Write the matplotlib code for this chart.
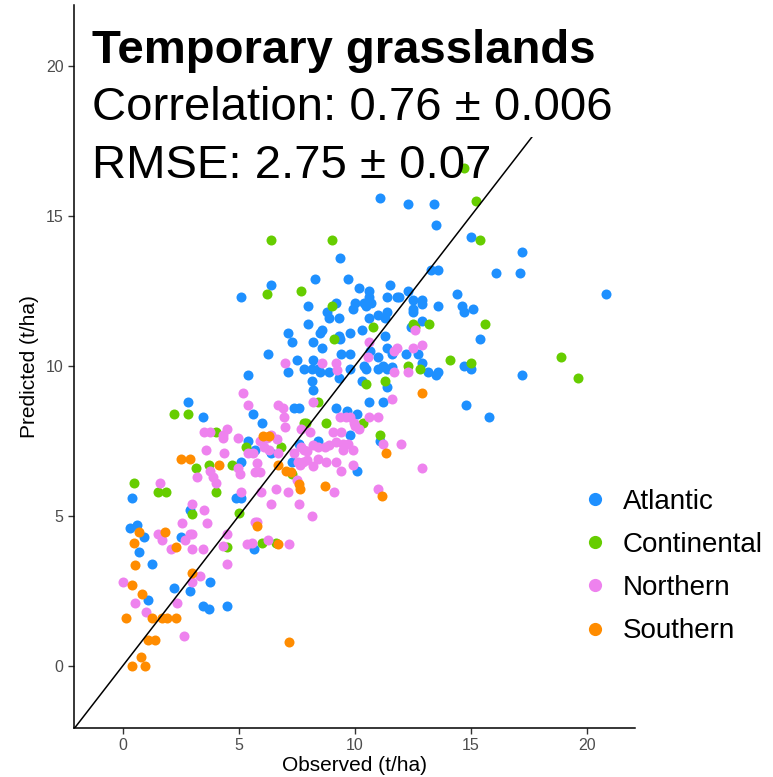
import matplotlib.pyplot as plt
from matplotlib.lines import Line2D
from matplotlib.patches import Rectangle

plt.rcParams['font.family'] = ['Liberation Sans', 'DejaVu Sans']

# observed / predicted (t/ha), per region
atlantic = [
    (11.1, 15.6), (12.3, 15.4), (13.4, 15.4), (13.5, 14.7), (15.0, 14.3), (9.35, 13.6),
    (13.3, 13.2), (13.6, 13.2), (17.2, 13.8), (16.1, 13.1), (17.1, 13.1), (20.8, 12.4),
    (8.3, 12.9), (9.7, 12.9), (10.2, 12.6), (6.4, 12.7), (5.1, 12.3), (10.6, 12.5),
    (10.6, 12.3), (11.5, 12.7), (11.4, 12.3), (11.8, 12.3), (11.9, 12.3), (12.3, 12.5),
    (12.5, 12.2), (12.5, 11.9), (12.5, 11.8), (12.9, 12.2), (12.9, 12.05), (13.6, 12.0),
    (14.4, 12.4), (14.6, 12.0), (14.7, 11.8), (15.1, 11.9),
    (8.0, 12.0), (9.2, 12.1), (10.0, 12.1), (10.4, 12.1), (9.9, 11.9), (10.5, 12.0), (10.7, 12.1),
    (8.8, 11.8), (8.9, 11.6), (9.3, 11.6), (10.6, 11.6), (11.0, 11.7), (11.4, 11.8), (11.3, 11.6),
    (8.0, 11.4), (8.6, 11.2), (8.5, 11.1), (7.1, 11.1), (9.3, 11.0), (9.8, 11.1), (10.3, 11.2),
    (9.35, 10.9), (8.2, 10.8), (11.3, 11.0), (7.3, 10.8), (8.6, 10.6), (10.65, 10.5),
    (12.9, 11.5), (12.4, 11.3), (15.4, 10.9),
    (9.4, 10.4), (9.8, 10.4), (6.25, 10.4), (11.0, 10.3), (7.5, 10.2), (8.2, 10.2),
    (11.4, 10.6), (11.6, 10.4), (12.2, 10.4), (12.7, 10.4),
    (7.1, 9.8), (7.8, 9.9), (8.15, 9.9), (8.4, 9.9), (8.5, 9.8), (8.9, 9.8), (9.8, 9.9),
    (10.4, 10.0), (10.5, 9.9), (11.0, 9.9), (11.2, 10.0), (11.4, 9.9), (11.6, 9.95),
    (12.9, 10.1), (13.15, 9.8), (13.5, 9.7), (13.6, 9.8), (14.7, 10.0), (15.0, 9.9),
    (17.2, 9.7), (9.3, 9.6),
    (5.4, 9.7), (8.15, 9.5), (10.3, 9.5), (11.4, 9.3), (8.2, 9.2), (2.8, 8.8), (10.6, 8.8),
    (11.2, 8.8), (14.8, 8.7), (15.8, 8.3),
    (5.6, 8.4), (6.0, 8.1), (7.4, 8.6), (7.6, 8.6), (9.2, 8.6), (9.65, 8.5), (10.1, 8.4), (3.45, 8.3),
    (7.6, 7.4), (8.4, 7.5), (9.8, 7.7), (11.1, 7.5), (5.4, 7.5), (5.7, 7.2), (6.4, 7.1),
    (10.1, 6.5), (7.3, 6.8), (5.1, 6.8),
    (0.4, 5.6), (4.9, 5.6), (5.1, 5.6), (2.9, 5.2), (0.3, 4.6), (0.6, 4.7), (0.9, 4.3),
    (0.7, 3.8), (1.25, 3.4), (2.5, 4.3), (5.65, 3.9),
    (2.2, 2.6), (2.9, 2.5), (3.75, 2.8), (1.1, 2.2), (3.45, 2.0), (3.7, 1.9), (4.5, 2.0),
]

continental = [
    (14.7, 16.6), (15.2, 15.5), (15.4, 14.2), (6.4, 14.2), (9.0, 14.2), (6.2, 12.4), (7.7, 12.5),
    (9.0, 12.0), (10.8, 11.3), (9.1, 10.9), (15.6, 11.4), (12.5, 11.4), (12.6, 11.3), (13.2, 11.4),
    (12.3, 10.0), (12.8, 9.9), (14.1, 10.2), (15.0, 10.1), (18.9, 10.3), (19.6, 9.6), (11.3, 9.5),
    (10.5, 9.4), (8.4, 8.8), (7.8, 8.1), (7.9, 8.1), (8.75, 8.1), (10.35, 8.1), (11.1, 7.7),
    (2.2, 8.4), (2.8, 8.4), (4.0, 7.8), (5.3, 7.3), (6.8, 7.3), (7.3, 6.4), (0.5, 6.1), (1.5, 5.8),
    (1.85, 5.8), (3.15, 6.6), (3.7, 6.7), (4.7, 6.7), (4.0, 5.8), (3.0, 5.05), (5.0, 5.1),
    (4.5, 3.95), (6.0, 4.1), (6.6, 4.1),
]

northern = [
    (10.6, 10.8), (11.7, 10.5), (10.55, 10.3), (7.0, 10.1), (8.6, 10.1), (9.2, 10.1), (9.25, 9.85),
    (5.2, 9.1), (12.6, 11.2), (12.5, 10.6), (12.9, 10.7), (11.8, 10.6), (12.3, 9.8), (11.7, 9.8),
    (11.6, 8.9), (5.4, 8.7), (6.7, 8.7), (6.9, 8.6), (6.95, 8.3), (8.2, 8.8), (9.35, 8.3),
    (9.6, 8.3), (9.8, 8.3), (9.95, 8.1), (7.0, 7.95), (10.6, 8.3), (11.0, 8.3), (10.2, 7.9),
    (10.0, 8.0), (3.5, 7.8), (3.75, 7.8), (4.3, 7.6), (4.5, 7.9), (4.3, 7.7), (3.6, 7.2),
    (4.35, 7.1), (4.95, 7.6), (5.4, 7.1), (5.6, 7.1), (5.9, 7.5), (6.2, 7.6), (6.4, 7.7),
    (6.1, 7.3), (6.3, 7.2), (6.65, 7.55), (6.7, 7.1), (4.95, 6.6), (5.05, 6.4), (5.7, 6.45),
    (5.9, 6.45), (5.8, 6.75), (7.7, 7.9), (8.05, 7.8), (9.05, 7.8), (9.4, 7.8),
    (7.4, 7.1), (7.7, 7.3), (7.8, 7.2), (7.95, 7.15), (8.2, 7.35), (8.4, 7.3), (8.7, 7.3),
    (8.9, 7.35), (9.2, 7.45), (9.5, 7.4), (9.7, 7.4), (9.9, 7.2), (9.5, 7.2),
    (7.55, 6.8), (7.65, 6.7), (7.75, 6.8), (7.95, 6.85), (8.2, 6.65), (8.4, 6.9), (8.75, 6.8),
    (9.2, 6.8), (9.4, 6.5), (9.9, 6.7), (11.2, 7.4), (12.0, 7.4), (12.9, 6.6), (11.0, 5.9),
    (7.5, 6.2), (6.6, 5.9), (7.1, 5.8), (9.1, 5.8), (6.4, 5.4), (7.6, 5.4), (8.15, 5.0),
    (5.95, 5.8), (5.1, 5.8), (3.2, 6.3), (3.75, 6.5), (3.9, 6.3), (4.0, 6.1), (1.6, 6.1),
    (3.0, 5.4), (3.5, 5.2), (3.65, 4.75), (2.55, 4.75), (1.5, 4.4), (1.7, 4.2), (2.7, 4.2),
    (2.9, 4.4), (3.0, 4.4), (2.1, 3.9), (3.0, 3.9), (3.45, 3.9), (4.3, 4.0), (4.5, 4.4),
    (4.5, 3.4), (3.35, 3.0), (0.0, 2.8), (3.0, 2.8), (0.55, 2.1), (2.35, 2.1), (1.0, 1.8),
    (2.65, 1.0), (5.35, 4.05), (5.55, 4.1), (5.7, 4.8), (5.8, 4.8), (6.25, 4.2), (7.15, 4.05),
]

southern = [
    (12.9, 9.1), (11.35, 7.1), (11.15, 5.65), (8.7, 6.0), (7.6, 6.05), (7.65, 5.9), (7.05, 6.5),
    (7.25, 6.45), (6.7, 6.7), (6.05, 7.65), (6.3, 7.65), (5.8, 4.65), (6.7, 4.05), (7.15, 0.8),
    (2.5, 6.9), (2.9, 6.9), (4.15, 6.7), (0.7, 4.45), (0.5, 4.1), (0.55, 3.35), (1.8, 4.45),
    (2.3, 3.95), (3.0, 3.1), (0.4, 2.7), (0.85, 2.4), (0.15, 1.6), (1.25, 1.6), (1.7, 1.6),
    (1.9, 1.6), (2.3, 1.6), (1.1, 0.85), (1.4, 0.85), (0.8, 0.3), (0.4, 0.0), (0.95, 0.0),
]

regions = ['Atlantic', 'Continental', 'Northern', 'Southern']
punkte = [atlantic, continental, northern, southern]
boje = ['#1E90FF', '#66CD00', '#EE82EE', '#FF8C00']
ticks = [0, 5, 10, 15, 20]

fig = plt.figure(figsize=(7.73, 7.77), dpi=100)
ax = fig.add_axes([0.0957, 0.0631, 0.7258, 0.9305])

for ime, pts, c in zip(regions, punkte, boje):
    xs = [p[0] for p in pts]
    ys = [p[1] for p in pts]
    ax.scatter(xs, ys, s=52, color=c, linewidths=0, zorder=2, label=ime)

# 1:1 linija
ax.axline((0, 0), slope=1, color='black', lw=1.1, zorder=3)

ax.set_xlim(-2.1, 22.07)
ax.set_ylim(-2.07, 22.03)
ax.set_xticks(ticks)
ax.set_yticks(ticks)
for s in ['top', 'right']:
    ax.spines[s].set_visible(False)
for s in ['left', 'bottom']:
    ax.spines[s].set_linewidth(1.1)
    ax.spines[s].set_color('black')
ax.tick_params(labelsize=11.5, labelcolor='#4D4D4D', color='#333333', length=4, width=1)
ax.set_xlabel('Observed (t/ha)', fontsize=15, labelpad=2)
ax.set_ylabel('Predicted (t/ha)', fontsize=15, labelpad=5)

# bela pozadina iza naslova (prekriva liniju)
fig.add_artist(Rectangle((0.104, 0.824), 0.73, 0.18, transform=fig.transFigure,
                         facecolor='white', edgecolor='none', zorder=1))
fig.text(0.119, 0.919, 'Temporary grasslands', fontsize=34, fontweight='bold',
         va='baseline', zorder=5)
fig.text(0.119, 0.845, 'Correlation: 0.76 \u00b1 0.006', fontsize=34, va='baseline', zorder=5)
fig.text(0.119, 0.771, 'RMSE: 2.75 \u00b1 0.07', fontsize=34, va='baseline', zorder=5)

handles = [Line2D([], [], marker='o', ls='', color=c, markersize=9.5, markeredgewidth=0)
           for c in boje]
fig.legend(handles, regions, loc='center left', bbox_to_anchor=(581 / 773, 0.271),
           frameon=False, fontsize=20, handlelength=1.0, handletextpad=0.5,
           labelspacing=0.62, borderpad=0, borderaxespad=0)

fig.savefig('out.png', dpi=100)
